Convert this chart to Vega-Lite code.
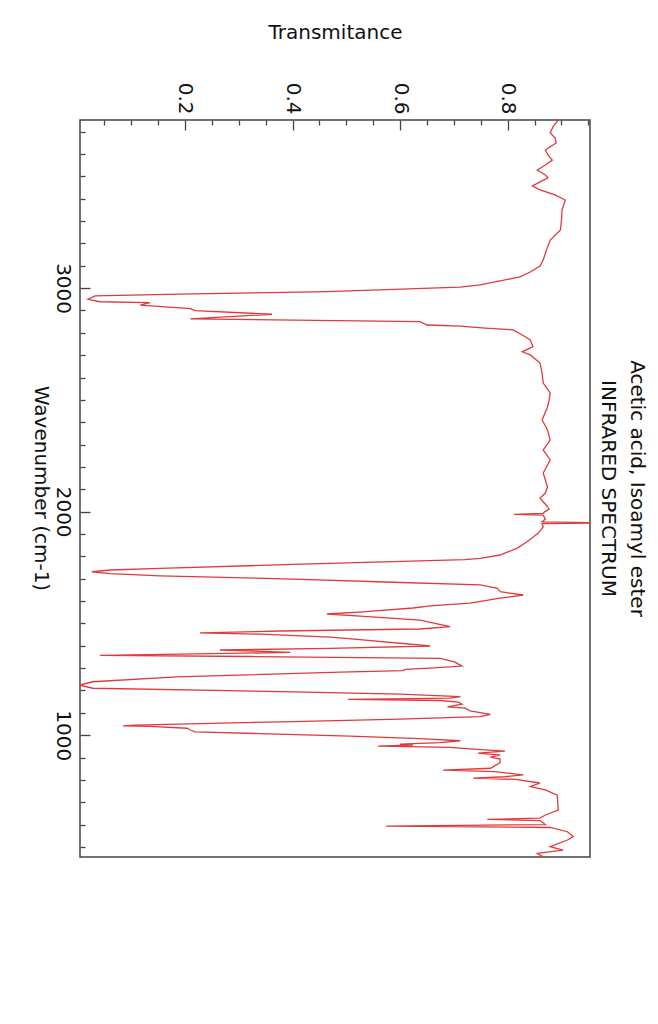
{
  "$schema": "https://vega.github.io/schema/vega-lite/v6.json",
  "autosize": {"type": "none"},
  "padding": {"left": 80, "top": 120, "right": 68, "bottom": 167},
  "width": 510,
  "height": 737,
  "background": "white",
  "title": {
    "text": ["Acetic acid, Isoamyl ester", "INFRARED SPECTRUM"],
    "orient": "right",
    "anchor": "middle",
    "angle": 90,
    "font": "DejaVu Sans",
    "fontSize": 20,
    "fontWeight": "normal",
    "color": "#111",
    "lineHeight": 29,
    "offset": 0
  },
  "config": {
    "view": {"stroke": "#444", "strokeWidth": 1.5},
    "axis": {"grid": false, "domain": false, "labelFont": "DejaVu Sans", "titleFont": "DejaVu Sans", "labelColor": "#111", "titleColor": "#111", "tickColor": "#444", "tickWidth": 1.3, "titleFontWeight": "normal"}
  },
  "data": {
    "values": [
      {"w":3752,"t":0.894},{"w":3725,"t":0.885},{"w":3694,"t":0.879},{"w":3672,"t":0.888},{"w":3649,"t":0.890},{"w":3618,"t":0.870},{"w":3595,"t":0.875},{"w":3573,"t":0.883},{"w":3551,"t":0.870},{"w":3528,"t":0.855},{"w":3506,"t":0.870},{"w":3493,"t":0.875},{"w":3475,"t":0.860},{"w":3457,"t":0.846},{"w":3439,"t":0.860},{"w":3417,"t":0.888},{"w":3394,"t":0.907},{"w":3349,"t":0.901},{"w":3305,"t":0.900},{"w":3260,"t":0.898},{"w":3215,"t":0.879},{"w":3170,"t":0.872},{"w":3126,"t":0.866},{"w":3099,"t":0.860},{"w":3072,"t":0.842},{"w":3050,"t":0.823},{"w":3032,"t":0.786},{"w":3014,"t":0.749},{"w":3004,"t":0.712},{"w":2984,"t":0.464},{"w":2974,"t":0.215},{"w":2965,"t":0.033},{"w":2950,"t":0.020},{"w":2939,"t":0.042},{"w":2935,"t":0.135},{"w":2924,"t":0.117},{"w":2908,"t":0.210},{"w":2899,"t":0.219},{"w":2883,"t":0.362},{"w":2862,"t":0.210},{"w":2850,"t":0.637},{"w":2835,"t":0.650},{"w":2830,"t":0.712},{"w":2821,"t":0.758},{"w":2813,"t":0.810},{"w":2790,"t":0.827},{"w":2768,"t":0.842},{"w":2738,"t":0.847},{"w":2715,"t":0.827},{"w":2701,"t":0.842},{"w":2665,"t":0.860},{"w":2620,"t":0.864},{"w":2575,"t":0.866},{"w":2531,"t":0.879},{"w":2499,"t":0.877},{"w":2468,"t":0.874},{"w":2410,"t":0.864},{"w":2365,"t":0.874},{"w":2320,"t":0.879},{"w":2276,"t":0.866},{"w":2231,"t":0.879},{"w":2173,"t":0.866},{"w":2110,"t":0.874},{"w":2083,"t":0.870},{"w":2061,"t":0.860},{"w":2022,"t":0.874},{"w":2012,"t":0.877},{"w":1998,"t":0.868},{"w":1992,"t":0.866},{"w":1988,"t":0.812},{"w":1984,"t":0.866},{"w":1967,"t":0.870},{"w":1954,"t":0.864},{"w":1950,"t":0.99},{"w":1946,"t":0.864},{"w":1932,"t":0.866},{"w":1904,"t":0.857},{"w":1865,"t":0.836},{"w":1837,"t":0.818},{"w":1806,"t":0.786},{"w":1791,"t":0.749},{"w":1785,"t":0.72},{"w":1779,"t":0.62},{"w":1764,"t":0.401},{"w":1746,"t":0.154},{"w":1739,"t":0.061},{"w":1731,"t":0.027},{"w":1723,"t":0.061},{"w":1713,"t":0.154},{"w":1698,"t":0.401},{"w":1684,"t":0.587},{"w":1672,"t":0.749},{"w":1657,"t":0.781},{"w":1642,"t":0.786},{"w":1627,"t":0.829},{"w":1613,"t":0.786},{"w":1591,"t":0.730},{"w":1578,"t":0.656},{"w":1569,"t":0.624},{"w":1552,"t":0.531},{"w":1542,"t":0.464},{"w":1533,"t":0.526},{"w":1515,"t":0.637},{"w":1486,"t":0.693},{"w":1475,"t":0.637},{"w":1466,"t":0.377},{"w":1458,"t":0.228},{"w":1452,"t":0.340},{"w":1439,"t":0.470},{"w":1429,"t":0.520},{"w":1399,"t":0.656},{"w":1388,"t":0.470},{"w":1381,"t":0.265},{"w":1374,"t":0.358},{"w":1370,"t":0.396},{"w":1363,"t":0.191},{"w":1357,"t":0.042},{"w":1352,"t":0.321},{"w":1344,"t":0.675},{"w":1327,"t":0.702},{"w":1309,"t":0.715},{"w":1300,"t":0.656},{"w":1294,"t":0.609},{"w":1289,"t":0.606},{"w":1282,"t":0.489},{"w":1261,"t":0.185},{"w":1239,"t":0.029},{"w":1224,"t":0.004},{"w":1210,"t":0.029},{"w":1194,"t":0.401},{"w":1184,"t":0.600},{"w":1172,"t":0.712},{"w":1166,"t":0.693},{"w":1160,"t":0.503},{"w":1155,"t":0.675},{"w":1148,"t":0.708},{"w":1139,"t":0.715},{"w":1127,"t":0.688},{"w":1121,"t":0.721},{"w":1109,"t":0.730},{"w":1093,"t":0.768},{"w":1083,"t":0.749},{"w":1072,"t":0.600},{"w":1061,"t":0.401},{"w":1052,"t":0.228},{"w":1045,"t":0.107},{"w":1042,"t":0.085},{"w":1039,"t":0.135},{"w":1031,"t":0.204},{"w":1023,"t":0.210},{"w":1015,"t":0.219},{"w":1007,"t":0.340},{"w":996,"t":0.507},{"w":985,"t":0.637},{"w":975,"t":0.712},{"w":967,"t":0.675},{"w":960,"t":0.600},{"w":956,"t":0.624},{"w":951,"t":0.559},{"w":945,"t":0.693},{"w":938,"t":0.736},{"w":929,"t":0.795},{"w":920,"t":0.745},{"w":911,"t":0.786},{"w":902,"t":0.768},{"w":893,"t":0.786},{"w":877,"t":0.786},{"w":852,"t":0.768},{"w":844,"t":0.680},{"w":837,"t":0.777},{"w":822,"t":0.829},{"w":814,"t":0.795},{"w":808,"t":0.736},{"w":802,"t":0.814},{"w":786,"t":0.860},{"w":770,"t":0.842},{"w":755,"t":0.870},{"w":732,"t":0.892},{"w":665,"t":0.894},{"w":643,"t":0.870},{"w":629,"t":0.860},{"w":623,"t":0.762},{"w":618,"t":0.860},{"w":600,"t":0.870},{"w":593,"t":0.574},{"w":587,"t":0.879},{"w":568,"t":0.911},{"w":546,"t":0.922},{"w":531,"t":0.911},{"w":501,"t":0.879},{"w":486,"t":0.903},{"w":471,"t":0.855},{"w":455,"t":0.866}
    ]
  },
  "mark": {"type": "line", "color": "#e03a3c", "strokeWidth": 1.3, "clip": true},
  "encoding": {
    "x": {
      "field": "t", "type": "quantitative",
      "scale": {"domain": [0.005, 0.953], "nice": false, "zero": false},
      "axis": {
        "orient": "top",
        "title": "Transmitance",
        "titleFontSize": 20,
        "titleAngle": 0,
        "titleX": 255,
        "titleY": -88,
        "titleAlign": "center",
        "titleBaseline": "middle",
        "values": [0.05,0.1,0.15,0.2,0.25,0.3,0.35,0.4,0.45,0.5,0.55,0.6,0.65,0.7,0.75,0.8,0.85,0.9,0.95],
        "format": ".1f",
        "labelExpr": "indexof([0.2,0.4,0.6,0.8], datum.value) >= 0 ? datum.label : ''",
        "labelAngle": 90,
        "labelFontSize": 20,
        "labelPadding": 16,
        "labelFlush": false,
        "labelOverlap": false,
        "tickSize": {"condition": {"test": "indexof([0.2,0.4,0.6,0.8], datum.value) >= 0", "value": -10}, "value": -5}
      }
    },
    "y": {
      "field": "w", "type": "quantitative",
      "scale": {"domain": [455, 3752], "nice": false, "zero": false},
      "axis": {
        "orient": "left",
        "title": "Wavenumber (cm-1)",
        "titleFontSize": 20,
        "titleAngle": 90,
        "titleX": -40,
        "titleY": 368,
        "titleAlign": "center",
        "titleBaseline": "middle",
        "values": [500,600,700,800,900,1000,1100,1200,1300,1400,1500,1600,1700,1800,1900,2000,2100,2200,2300,2400,2500,2600,2700,2800,2900,3000,3100,3200,3300,3400,3500,3600,3700],
        "format": "d",
        "labelExpr": "datum.value % 1000 === 0 ? datum.label : ''",
        "labelAngle": 90,
        "labelFontSize": 20,
        "labelPadding": 18,
        "labelFlush": false,
        "labelOverlap": false,
        "tickSize": {"condition": {"test": "datum.value % 1000 === 0", "value": -10}, "value": -5}
      }
    },
    "order": {"field": "w", "type": "quantitative"}
  }
}
